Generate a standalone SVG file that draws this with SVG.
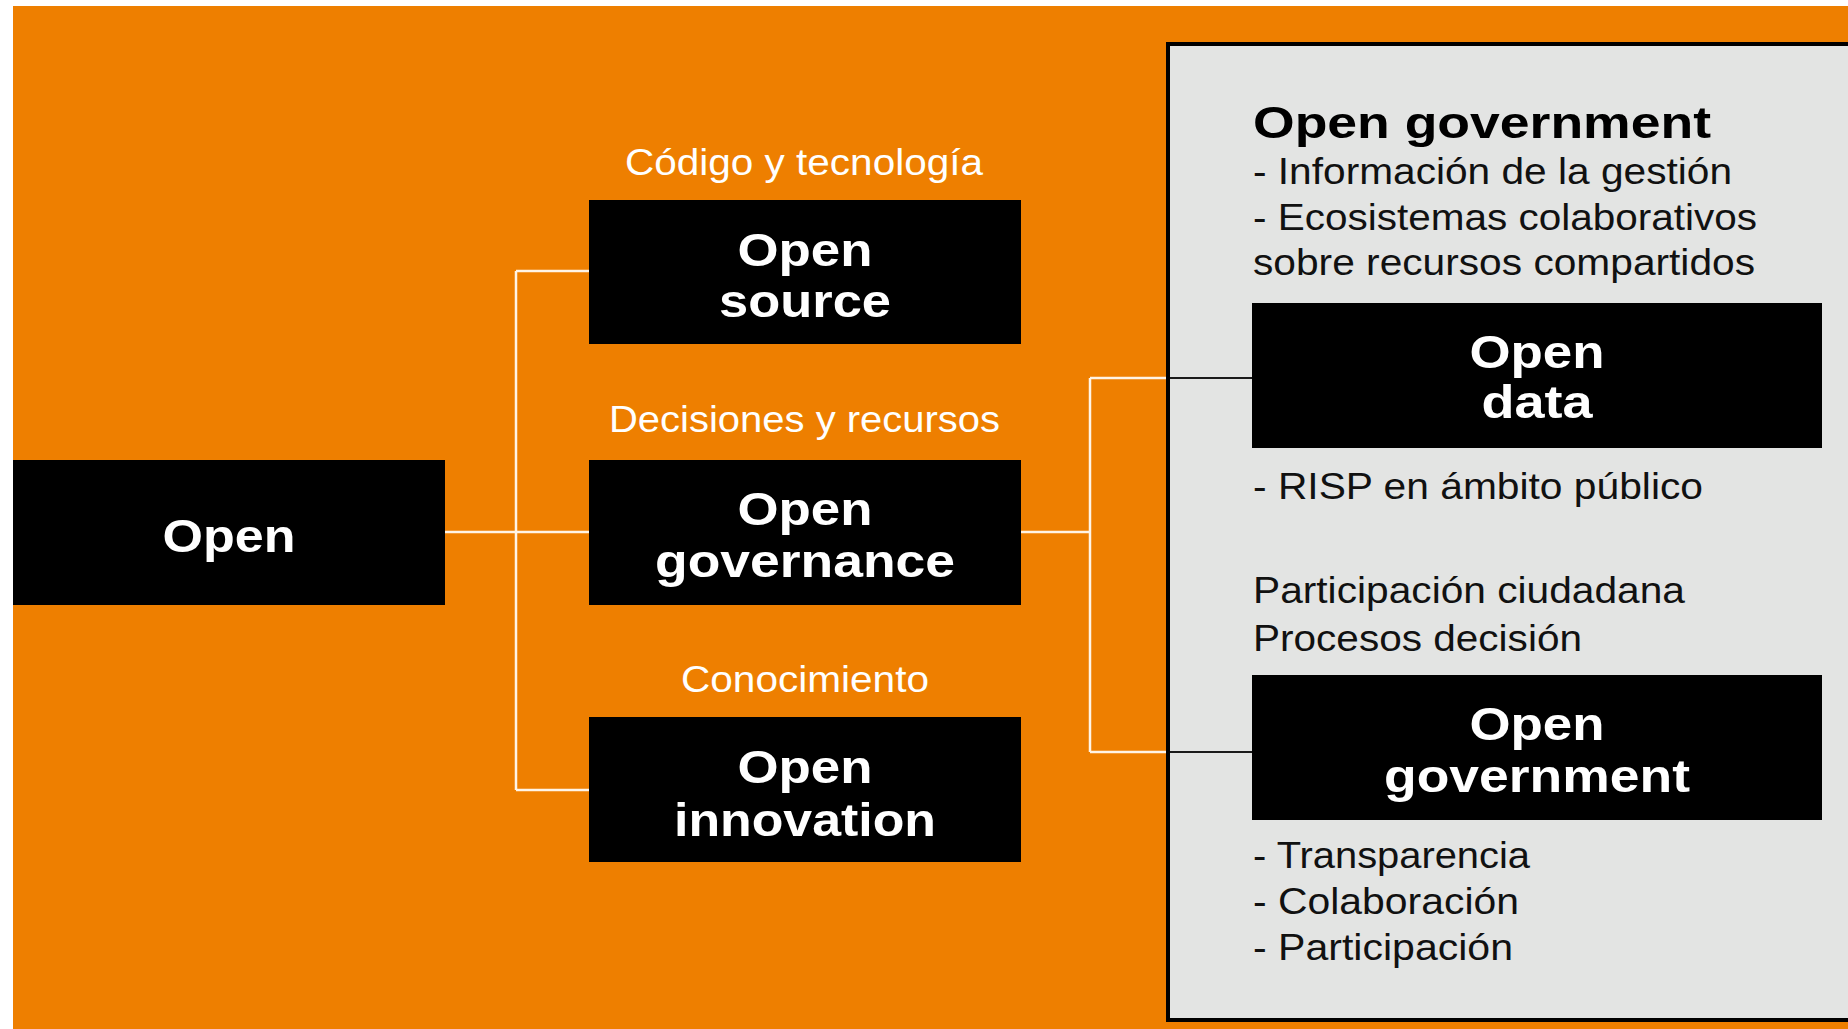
<svg xmlns="http://www.w3.org/2000/svg" width="1848" height="1029" viewBox="0 0 1848 1029">
  <style>
    .box { fill: #000000; }
    .lbl { font-family: "Liberation Sans", Arial, sans-serif; font-weight: bold; font-size: 46px; fill: #ffffff; text-anchor: middle; }
    .cap { font-family: "Liberation Sans", Arial, sans-serif; font-size: 36.5px; fill: #ffffff; }
    .txt { font-family: "Liberation Sans", Arial, sans-serif; font-size: 36.5px; fill: #111111; }
    .title { font-family: "Liberation Sans", Arial, sans-serif; font-weight: bold; font-size: 45px; fill: #000000; }
    .wl { stroke: #fff4e6; stroke-width: 2.5; fill: none; }
    .bl { stroke: #1a1a1a; stroke-width: 2; fill: none; }
  </style>
  <rect x="0" y="0" width="1848" height="1029" fill="#ffffff"/>
  <rect x="13" y="6" width="1835" height="1023" fill="#EE7F00"/>

  <g id="panel">
    <rect x="1168" y="44" width="700" height="976" fill="#E3E4E3" stroke="#000000" stroke-width="4"/>
    <text class="title" x="1253" y="138" textLength="458" lengthAdjust="spacingAndGlyphs">Open government</text>
    <text class="txt" x="1253" y="184" textLength="479" lengthAdjust="spacingAndGlyphs">- Información de la gestión</text>
    <text class="txt" x="1253" y="230" textLength="504" lengthAdjust="spacingAndGlyphs">- Ecosistemas colaborativos</text>
    <text class="txt" x="1253" y="275" textLength="502" lengthAdjust="spacingAndGlyphs">sobre recursos compartidos</text>
    <text class="txt" x="1253" y="499" textLength="450" lengthAdjust="spacingAndGlyphs">- RISP en ámbito público</text>
    <text class="txt" x="1253" y="603" textLength="432" lengthAdjust="spacingAndGlyphs">Participación ciudadana</text>
    <text class="txt" x="1253" y="651" textLength="329" lengthAdjust="spacingAndGlyphs">Procesos decisión</text>
    <text class="txt" x="1253" y="868" textLength="277" lengthAdjust="spacingAndGlyphs">- Transparencia</text>
    <text class="txt" x="1253" y="914" textLength="266" lengthAdjust="spacingAndGlyphs">- Colaboración</text>
    <text class="txt" x="1253" y="960" textLength="260" lengthAdjust="spacingAndGlyphs">- Participación</text>
  </g>

  <g id="connectors">
    <path class="wl" d="M445 532 H589"/>
    <path class="wl" d="M516 271 V790"/>
    <path class="wl" d="M516 271 H589"/>
    <path class="wl" d="M516 790 H589"/>
    <path class="wl" d="M1021 532 H1090"/>
    <path class="wl" d="M1090 378 V752"/>
    <path class="wl" d="M1090 378 H1166"/>
    <path class="wl" d="M1090 752 H1166"/>
    <path class="bl" d="M1170 378 H1252"/>
    <path class="bl" d="M1170 752 H1252"/>
  </g>

  <g id="open">
    <rect class="box" x="13" y="460" width="432" height="145"/>
    <text class="lbl" x="229" y="552" textLength="133" lengthAdjust="spacingAndGlyphs">Open</text>
  </g>

  <g id="open-source">
    <text class="cap" x="625" y="175" textLength="358" lengthAdjust="spacingAndGlyphs">Código y tecnología</text>
    <rect class="box" x="589" y="200" width="432" height="144"/>
    <text class="lbl" x="805" y="266" textLength="135" lengthAdjust="spacingAndGlyphs">Open</text>
    <text class="lbl" x="805" y="317" textLength="172" lengthAdjust="spacingAndGlyphs">source</text>
  </g>

  <g id="open-governance">
    <text class="cap" x="609" y="432" textLength="391" lengthAdjust="spacingAndGlyphs">Decisiones y recursos</text>
    <rect class="box" x="589" y="460" width="432" height="145"/>
    <text class="lbl" x="805" y="525" textLength="135" lengthAdjust="spacingAndGlyphs">Open</text>
    <text class="lbl" x="805" y="577" textLength="300" lengthAdjust="spacingAndGlyphs">governance</text>
  </g>

  <g id="open-innovation">
    <text class="cap" x="681" y="692" textLength="248" lengthAdjust="spacingAndGlyphs">Conocimiento</text>
    <rect class="box" x="589" y="717" width="432" height="145"/>
    <text class="lbl" x="805" y="783" textLength="135" lengthAdjust="spacingAndGlyphs">Open</text>
    <text class="lbl" x="805" y="836" textLength="262" lengthAdjust="spacingAndGlyphs">innovation</text>
  </g>

  <g id="open-data">
    <rect class="box" x="1252" y="303" width="570" height="145"/>
    <text class="lbl" x="1537" y="368" textLength="135" lengthAdjust="spacingAndGlyphs">Open</text>
    <text class="lbl" x="1537" y="418" textLength="111" lengthAdjust="spacingAndGlyphs">data</text>
  </g>

  <g id="open-government">
    <rect class="box" x="1252" y="675" width="570" height="145"/>
    <text class="lbl" x="1537" y="740" textLength="135" lengthAdjust="spacingAndGlyphs">Open</text>
    <text class="lbl" x="1537" y="792" textLength="306" lengthAdjust="spacingAndGlyphs">government</text>
  </g>
</svg>
